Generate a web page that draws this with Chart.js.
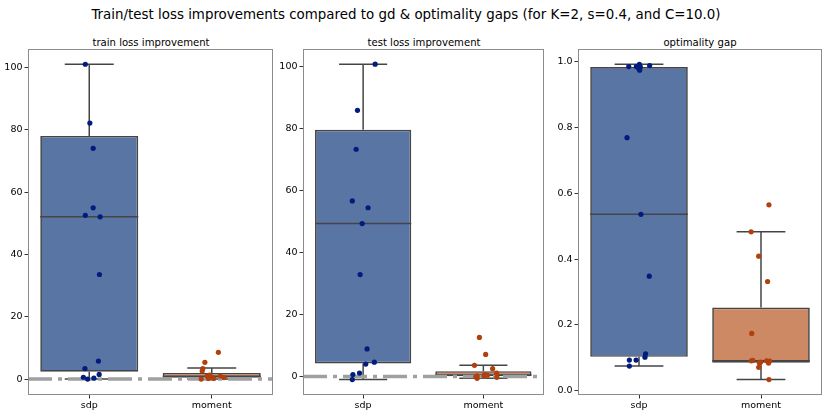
<!DOCTYPE html>
<html lang="en">
<head>
    <meta charset="UTF-8">
    <title>Train/test loss improvements</title>
    <script src="https://cdn.jsdelivr.net/npm/chart.js"></script>
    <style>
        body { margin: 0; background: #fff; font-family: 'DejaVu Sans', sans-serif; }
        #fig { position: relative; width: 830px; height: 415px; overflow: hidden; }
        .ttl { position: absolute; white-space: nowrap; transform: translateX(-50%); color: #000; }
        .panel { position: absolute; }
    </style>
</head>
<body>
<div id="fig">
    <div class="ttl" style="left:406px; top:6.5px; font-size:13.4px;">Train/test loss improvements compared to gd &amp; optimality gaps (for K=2, s=0.4, and C=10.0)</div>
    <div class="ttl" style="left:151px; top:36.5px; font-size:10.1px;">train loss improvement</div>
    <div class="ttl" style="left:424px; top:36.5px; font-size:10.1px;">test loss improvement</div>
    <div class="ttl" style="left:700px; top:36.5px; font-size:10.1px;">optimality gap</div>
    <div class="panel" id="p1"><canvas id="c1"></canvas></div>
    <div class="panel" id="p2"><canvas id="c2"></canvas></div>
    <div class="panel" id="p3"><canvas id="c3"></canvas></div>
</div>

<script>
    // categories on the x axis of every panel
    const categories = ['sdp', 'moment'];

    // train loss improvement
    const trainSdp = [101.1, 82.2, 74.1, 55.0, 52.6, 52.1, 33.6, 5.8, 3.4, 1.5, 0.6, 0.3, 0.0];
    const trainSdpJitter = [-0.032, 0.005, 0.032, 0.032, -0.032, 0.089, 0.083, 0.075, -0.035, 0.081, -0.048, 0.038, -0.013];
    const trainMoment = [8.6, 5.4, 3.4, 2.6, 1.3, 1.0, 1.0, 0.6, 0.5, 0.2, 0.2, 0.0];
    const trainMomentJitter = [0.054, -0.056, -0.073, -0.078, -0.016, -0.038, 0.07, 0.003, 0.1, -0.027, 0.016, -0.086];
    // box stats: [whisker low, q1, median, q3, whisker high]
    const trainSdpBox = [0.0, 2.4, 52.1, 78.1, 101.1];
    const trainMomentBox = [0.0, 0.4, 0.9, 2.0, 3.6];

    // test loss improvement
    const testSdp = [100.9, 86.0, 73.4, 56.7, 54.5, 49.4, 32.9, 8.9, 4.0, 4.6, 1.1, 0.6, -1.0];
    const testSdpJitter = [0.10, -0.047, -0.058, -0.09, 0.041, -0.008, -0.025, 0.033, 0.022, 0.093, -0.03, -0.085, -0.09];
    const testMoment = [12.6, 7.1, 3.6, 2.5, 1.1, 0.6, 0.4, 0.2, 0.2, -0.1, -0.6, -0.3];
    const testMomentJitter = [-0.033, 0.019, -0.074, 0.077, 0.11, 0.011, 0.033, 0.005, -0.052, -0.063, -0.052, 0.112];
    const testSdpBox = [-1.0, 4.2, 49.4, 79.7, 100.9];
    const testMomentBox = [-0.6, 0.05, 0.5, 1.7, 3.6];

    // optimality gap
    const gapSdp = [0.988, 0.992, 0.986, 0.985, 0.985, 0.980, 0.974, 0.984, 0.769, 0.536, 0.348, 0.112, 0.102, 0.093, 0.093, 0.075];
    const gapSdpJitter = [0.087, 0.003, -0.011, -0.084, -0.022, -0.003, 0.005, 0.011, -0.098, 0.016, 0.084, 0.054, 0.049, -0.079, -0.024, -0.079];
    const gapMoment = [0.565, 0.483, 0.409, 0.332, 0.174, 0.091, 0.092, 0.085, 0.087, 0.091, 0.090, 0.084, 0.071, 0.034];
    const gapMomentJitter = [0.065, -0.081, -0.019, 0.054, -0.076, -0.079, -0.068, -0.014, -0.003, 0.046, 0.071, 0.062, -0.019, 0.065];
    const gapSdpBox = [0.075, 0.103, 0.536, 0.984, 0.992];
    const gapMomentBox = [0.034, 0.085, 0.091, 0.253, 0.483];

    // tick labels
    const lossTicks = [0, 20, 40, 60, 80, 100];
    const gapTicks = [0.0, 0.2, 0.4, 0.6, 0.8, 1.0];

    // reference line drawn on the loss panels
    const baselineValue = 0;

    const boxColors = ['#5875a4', '#cc8963'];
    const pointColors = ['#001c7f', '#b1400d'];
    const edgeColor = '#454545';

    // frame on all four sides of the plot area
    const framePlugin = {
        id: 'frame',
        afterDraw(chart) {
            const a = chart.chartArea, ctx = chart.ctx;
            ctx.save();
            ctx.strokeStyle = '#8c8c8c';
            ctx.lineWidth = 1;
            ctx.strokeRect(Math.round(a.left) + 0.5, Math.round(a.top) + 0.5,
                Math.round(a.right - a.left) - 1, Math.round(a.bottom - a.top) - 1);
            ctx.restore();
        }
    };

    function boxLines(boxes) {
        // whiskers, caps and medians as one broken line
        const pts = [];
        boxes.forEach((b, i) => {
            const [lo, q1, med, q3, hi] = b;
            pts.push({x: i, y: q3}, {x: i, y: hi}, {x: i, y: null});
            pts.push({x: i - 0.2, y: hi}, {x: i + 0.2, y: hi}, {x: i, y: null});
            pts.push({x: i, y: q1}, {x: i, y: lo}, {x: i, y: null});
            pts.push({x: i - 0.2, y: lo}, {x: i + 0.2, y: lo}, {x: i, y: null});
            pts.push({x: i - 0.4, y: med}, {x: i + 0.4, y: med}, {x: i, y: null});
        });
        return pts;
    }

    function makePanel(id, plotLeft, plotRight, opts) {
        const yAxisW = 28, padTop = 10, xAxisH = 20;
        const wrap = document.getElementById('p' + id);
        const w = plotRight - plotLeft + yAxisW + 2;
        const h = 395 - 49 + padTop + xAxisH;
        wrap.style.left = (plotLeft - yAxisW) + 'px';
        wrap.style.top = (49 - padTop) + 'px';
        wrap.style.width = w + 'px';
        wrap.style.height = h + 'px';

        const datasets = [];
        opts.series.forEach((vals, i) => {
            datasets.push({
                type: 'scatter',
                data: vals.map((v, k) => ({x: i + opts.jitter[i][k], y: v})),
                backgroundColor: pointColors[i],
                borderWidth: 0,
                pointRadius: 2.6,
                order: 0
            });
        });
        if (opts.baseline) {
            datasets.push({
                type: 'line',
                data: [{x: -0.5, y: baselineValue}, {x: 1.5, y: baselineValue}],
                borderColor: '#a0a0a0',
                borderWidth: 3.5,
                borderDash: [24, 6, 4, 6],
                borderCapStyle: 'butt',
                pointRadius: 0,
                order: 1
            });
        }
        datasets.push({
            type: 'line',
            data: boxLines(opts.boxes),
            borderColor: edgeColor,
            borderWidth: 1.5,
            pointRadius: 0,
            spanGaps: false,
            order: 2
        });
        datasets.push({
            type: 'bar',
            data: opts.boxes.map((b, i) => ({x: i, y: [b[1], b[3]]})),
            backgroundColor: boxColors,
            borderColor: edgeColor,
            borderWidth: 1.7,
            borderSkipped: false,
            barPercentage: 0.8,
            categoryPercentage: 1.0,
            order: 3
        });

        new Chart(document.getElementById('c' + id), {
            data: {datasets},
            plugins: [framePlugin],
            options: {
                responsive: true,
                maintainAspectRatio: false,
                animation: false,
                layout: {padding: {top: padTop, right: 2, bottom: 0, left: 0}},
                plugins: {legend: {display: false}, tooltip: {enabled: false}, title: {display: false}},
                scales: {
                    x: {
                        type: 'linear',
                        min: -0.5, max: 1.5,
                        offset: false,
                        afterBuildTicks: s => { s.ticks = categories.map((c, i) => ({value: i})); },
                        afterFit: s => { s.height = xAxisH; },
                        ticks: {
                            callback: v => categories[v],
                            color: '#000',
                            font: {family: 'DejaVu Sans', size: 9.5},
                            padding: 1,
                            maxRotation: 0
                        },
                        grid: {offset: false, drawOnChartArea: false, drawTicks: true, tickLength: 3.5, color: '#333'},
                        border: {display: false}
                    },
                    y: {
                        type: 'linear',
                        min: opts.yRange[0], max: opts.yRange[1],
                        afterBuildTicks: s => { s.ticks = opts.ticks.map(v => ({value: v})); },
                        afterFit: s => { s.width = yAxisW; },
                        ticks: {
                            callback: opts.fmt,
                            color: '#000',
                            font: {family: 'DejaVu Sans', size: 9.5},
                            padding: 2
                        },
                        grid: {drawOnChartArea: false, drawTicks: true, tickLength: 3.5, color: '#333'},
                        border: {display: false}
                    }
                }
            }
        });
    }

    makePanel(1, 27.5, 274.5, {
        series: [trainSdp, trainMoment],
        jitter: [trainSdpJitter, trainMomentJitter],
        boxes: [trainSdpBox, trainMomentBox],
        yRange: [-5.1, 106.0],
        ticks: lossTicks,
        fmt: v => String(v),
        baseline: true
    });
    makePanel(2, 302.5, 545, {
        series: [testSdp, testMoment],
        jitter: [testSdpJitter, testMomentJitter],
        boxes: [testSdpBox, testMomentBox],
        yRange: [-6.0, 105.8],
        ticks: lossTicks,
        fmt: v => String(v),
        baseline: true
    });
    makePanel(3, 577.5, 823.5, {
        series: [gapSdp, gapMoment],
        jitter: [gapSdpJitter, gapMomentJitter],
        boxes: [gapSdpBox, gapMomentBox],
        yRange: [-0.013, 1.0385],
        ticks: gapTicks,
        fmt: v => v.toFixed(1),
        baseline: false
    });
</script>
</body>
</html>
